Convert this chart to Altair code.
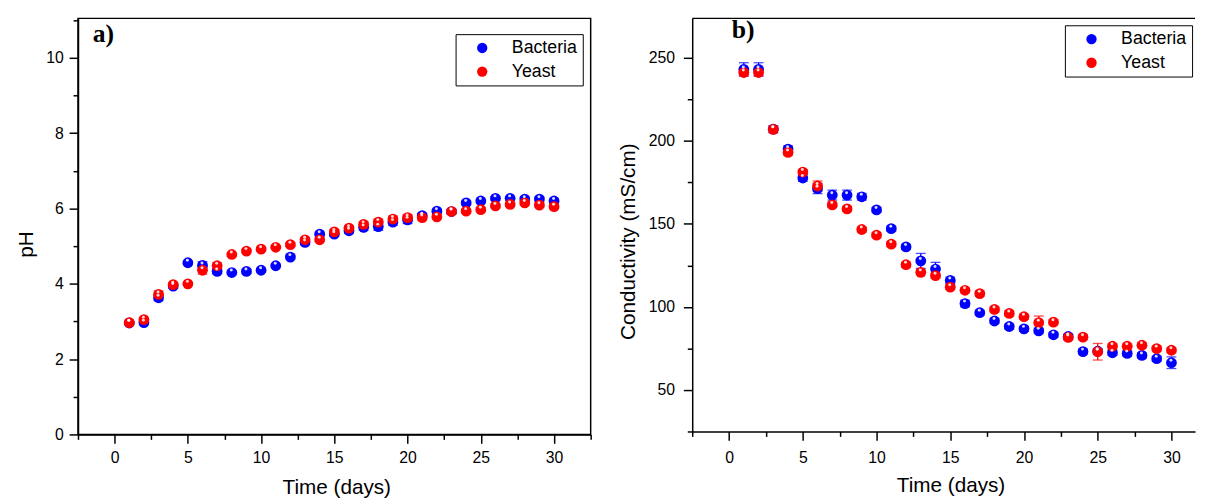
import altair as alt
import pandas as pd

days = list(range(1, 31))
series_names = ["Bacteria", "Yeast"]
series_colors = ["#0000FF", "#FF0000"]
panel_labels = ["a)", "b)"]

ph_bacteria = [2.96, 2.97, 3.63, 3.94, 4.56, 4.49, 4.33, 4.30, 4.33, 4.36,
               4.48, 4.71, 5.10, 5.32, 5.32, 5.41, 5.50, 5.52, 5.64, 5.70,
               5.81, 5.93, 5.92, 6.15, 6.20, 6.27, 6.27, 6.25, 6.25, 6.20]
ph_yeast = [2.97, 3.05, 3.72, 3.98, 4.00, 4.36, 4.48, 4.78, 4.87, 4.92,
            4.97, 5.04, 5.17, 5.17, 5.38, 5.48, 5.58, 5.64, 5.72, 5.76,
            5.76, 5.78, 5.92, 5.93, 5.97, 6.07, 6.11, 6.15, 6.09, 6.05]
ph_bacteria_err = [0.03, 0.04, 0.08, 0.06, 0.05, 0.10, 0.06, 0.04, 0.05, 0.05,
                   0.04, 0.05, 0.06, 0.05, 0.06, 0.07, 0.08, 0.10, 0.08, 0.10,
                   0.06, 0.05, 0.06, 0.05, 0.05, 0.05, 0.04, 0.05, 0.06, 0.05]
ph_yeast_err = [0.03, 0.04, 0.09, 0.05, 0.04, 0.10, 0.08, 0.04, 0.05, 0.05,
                0.04, 0.05, 0.06, 0.05, 0.06, 0.06, 0.07, 0.08, 0.08, 0.08,
                0.06, 0.05, 0.06, 0.05, 0.05, 0.05, 0.04, 0.05, 0.06, 0.05]

cond_bacteria = [243.0, 243.0, 207.0, 195.0, 177.6, 171.2, 167.3, 167.3, 166.3, 158.4,
                 147.1, 136.1, 127.7, 122.8, 115.9, 102.0, 96.5, 91.5, 88.2, 86.8,
                 85.6, 83.2, 82.2, 73.1, 73.3, 72.4, 72.0, 70.8, 68.8, 66.4]
cond_yeast = [241.1, 241.1, 206.9, 193.0, 181.2, 172.8, 161.4, 159.0, 146.6, 143.2,
              137.8, 125.4, 120.8, 118.8, 111.9, 110.0, 108.0, 98.5, 96.1, 94.1,
              90.5, 90.8, 81.6, 81.8, 73.0, 76.3, 76.3, 76.9, 74.9, 73.9]
cond_bacteria_err = [4.0, 4.0, 2.0, 2.0, 2.0, 3.0, 3.0, 3.0, 2.0, 1.5,
                     1.5, 1.5, 4.5, 4.0, 2.0, 2.0, 1.5, 1.5, 1.5, 1.5,
                     1.5, 1.5, 1.5, 1.5, 1.5, 1.5, 1.5, 1.5, 1.5, 3.5]
cond_yeast_err = [2.0, 2.0, 2.0, 1.5, 1.5, 3.0, 1.5, 1.5, 1.5, 1.5,
                  1.5, 1.5, 1.5, 1.5, 1.5, 1.5, 1.5, 1.5, 1.5, 1.5,
                  4.0, 1.5, 1.5, 1.5, 5.0, 1.5, 1.5, 1.5, 1.5, 1.5]

x_major = [0, 5, 10, 15, 20, 25, 30]
x_minor_left = [-2.5, 2.5, 7.5, 12.5, 17.5, 22.5, 27.5, 32.5]
x_minor_right = [-2.5, 2.5, 7.5, 12.5, 17.5, 22.5, 27.5]
ph_major = [0, 2, 4, 6, 8, 10]
ph_minor = [1, 3, 5, 7, 9, 11]
cond_major = [50, 100, 150, 200, 250]
cond_minor = [25, 75, 125, 175, 225]

FONT = "Liberation Sans"


def make_frame(b, y, eb, ey):
    rows = []
    for name, vals, errs in [("Bacteria", b, eb), ("Yeast", y, ey)]:
        for d, v, e in zip(days, vals, errs):
            rows.append({"day": d, "value": v, "lo": v - e, "hi": v + e, "series": name})
    return pd.DataFrame(rows)


def panel(df, label, xdom, xminor, ydom, ymajor, yminor, ytitle, w, h,
          legend_xy, ytitle_xy, xtitle_xy, ylabpad, xlabpad, label_xy, frame):
    xscale = alt.Scale(domain=xdom, nice=False, zero=False)
    yscale = alt.Scale(domain=ydom, nice=False, zero=False)
    xaxis = alt.Axis(
        values=x_major, title="Time (days)", orient="bottom", labelOverlap=False,
        format="d", tickSize=9, labelPadding=xlabpad,
        titleX=xtitle_xy[0], titleY=xtitle_xy[1], titleBaseline="alphabetic",
    )
    yaxis = alt.Axis(
        values=ymajor, title=ytitle, orient="left", labelOverlap=False,
        format="d", tickSize=9, labelPadding=ylabpad,
        titleX=ytitle_xy[0], titleY=ytitle_xy[1],
        titleBaseline="middle", titleAngle=-90,
    )
    xaxis_minor = alt.Axis(values=xminor, orient="bottom", labels=False, domain=False,
                           tickSize=5, title=None)
    yaxis_minor = alt.Axis(values=yminor, orient="left", labels=False, domain=False,
                           tickSize=5, title=None)
    base = alt.Chart(df)
    layers = []
    for i, (name, col) in enumerate(zip(series_names, series_colors)):
        layers.append(
            base.transform_filter(alt.datum.series == name)
            .mark_errorbar(color=col, thickness=1.3, ticks={"size": 10, "thickness": 1.3})
            .encode(
                x=alt.X("day:Q", scale=xscale, axis=xaxis if i == 0 else None),
                y=alt.Y("lo:Q", scale=yscale, axis=yaxis if i == 0 else None),
                y2="hi:Q",
            )
        )
    minor = base.mark_point(opacity=0).encode(
        x=alt.X("day:Q", scale=xscale, axis=xaxis_minor),
        y=alt.Y("value:Q", scale=yscale, axis=yaxis_minor),
    )
    pts = base.mark_point(filled=True, size=120, opacity=1).encode(
        x=alt.X("day:Q", scale=xscale, axis=None),
        y=alt.Y("value:Q", scale=yscale, axis=None),
        color=alt.Color(
            "series:N",
            scale=alt.Scale(domain=series_names, range=series_colors),
            legend=alt.Legend(
                title=None, orient="none", legendX=legend_xy[0], legendY=legend_xy[1],
                strokeColor="black", fillColor="white", padding=5,
                labelFont=FONT, labelFontSize=18, labelColor="black",
                symbolType="circle", symbolSize=110, symbolOffset=13,
                labelOffset=21, rowPadding=6, symbolStrokeWidth=0,
            ),
        ),
        order=alt.Order("series:N"),
    )
    shine = base.mark_point(filled=True, size=9, color="white", opacity=0.85,
                            xOffset=-0.5, yOffset=-2.5).encode(
        x=alt.X("day:Q", scale=xscale, axis=None),
        y=alt.Y("value:Q", scale=yscale, axis=None),
    )
    txt = alt.Chart(pd.DataFrame({"t": [label]})).mark_text(
        font="Liberation Serif", fontSize=26, fontWeight="bold",
        align="left", baseline="middle", color="black",
    ).encode(text="t:N", x=alt.value(label_xy[0]), y=alt.value(label_xy[1]))
    layers += [minor, pts, shine, txt]
    if frame == "open":
        top = alt.Chart(pd.DataFrame({"t": [label]})).mark_rule(
            color="black", strokeWidth=1.5
        ).encode(x=alt.value(0), x2=alt.value(w), y=alt.value(0))
        layers.append(top)
        view = alt.ViewBackground(stroke="transparent")
    else:
        view = alt.ViewBackground(stroke="black", strokeWidth=1.5)
    return alt.layer(*layers).resolve_axis(x="independent", y="independent").properties(
        width=w, height=h, view=view
    )


ph_df = make_frame(ph_bacteria, ph_yeast, ph_bacteria_err, ph_yeast_err)
cond_df = make_frame(cond_bacteria, cond_yeast, cond_bacteria_err, cond_yeast_err)

left = panel(
    ph_df, panel_labels[0], [-2.5, 32.5], x_minor_left,
    [0, 11.05], ph_major, ph_minor, "pH", 520, 422,
    legend_xy=(383, 16), ytitle_xy=(-52, 229), xtitle_xy=(262, 60), ylabpad=6, xlabpad=6,
    label_xy=(15, 16), frame="box",
)
right = panel(
    cond_df, panel_labels[1], [-2.5, 31.6], x_minor_right,
    [25, 273.7], cond_major, cond_minor, "Conductivity (mS/cm)", 510, 419,
    legend_xy=(378, 7), ytitle_xy=(-65, 226), xtitle_xy=(262, 61), ylabpad=9, xlabpad=9,
    label_xy=(40, 12), frame="open",
)

chart = alt.hconcat(left, right, spacing=24).resolve_scale(
    color="independent"
).resolve_legend(color="independent").properties(
    padding={"left": 7, "top": 5, "right": 0, "bottom": 0}
).configure(background="white").configure_axis(
    grid=False, domainColor="black", domainWidth=1.5, tickColor="black", tickWidth=1.5,
    labelFont=FONT, labelFontSize=16, labelColor="black",
    titleFont=FONT, titleFontSize=21, titleFontWeight="normal", titleColor="black",
).configure_legend(strokeWidth=1)

chart.save("out.html", embed_options={"renderer": "svg", "actions": False})
